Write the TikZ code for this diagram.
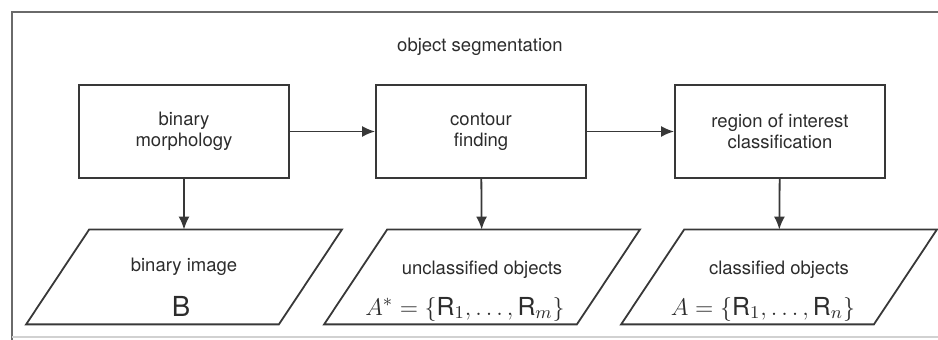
\documentclass[tikz,border=0pt]{standalone}
\usepackage{amsmath}
\usepackage{fontspec}
\setsansfont{TeX Gyre Heros}
\usetikzlibrary{arrows.meta}
\definecolor{linegray}{HTML}{383838}
\definecolor{framegray}{HTML}{6A6A6A}
\definecolor{textgray}{HTML}{2C2C2C}

\begin{document}
\begin{tikzpicture}[x=0.5pt, y=-0.5pt,
    stage/.style={draw=linegray, line width=0.9pt, minimum width=105pt, minimum height=46.5pt,
        inner sep=0pt, align=center, text=textgray, font=\sffamily\fontsize{9.25}{10.5}\selectfont},
    result/.style={minimum width=126pt, minimum height=47pt, inner sep=0pt},
    resulttext/.style={align=center, text=textgray, inner sep=0pt, yshift=-7pt,
        font=\sffamily\fontsize{9.25}{10.5}\selectfont},
    flow/.style={draw=linegray, line width=0.9pt, -{Latex[length=6.5pt,width=5.5pt]}}]
    \useasboundingbox (0,0) rectangle (938,340);
    % The frame round the whole figure.
        \draw[framegray, line width=1.1pt] (950,12) -- (12,12) -- (12,350);
        \draw[black!18, line width=1pt] (12,337) -- (950,337);
    \node[text=textgray, font=\sffamily\fontsize{9.25}{10.5}\selectfont] (title) at (480,47) {object segmentation};
    % Below nodes are the three stages.
        \node[stage] (morph) at (184,131.5) {binary\\morphology};
        \node[stage] (contour) at (481,131.5) {contour\\finding};
        \node[stage] (roi) at (780,131.5) {region of interest\\classification};
    % Below nodes are what each stage gives, the texts sit in their labels.
        \node[result, label={[resulttext]center:{binary image\\[8.5pt]{\fontsize{13.8}{14}\selectfont\hspace*{-3pt}$\vphantom{\{\}}$B}}}] (bimg) at (184,277) {};
        \node[result, label={[resulttext]center:{unclassified objects\\[8.5pt]{\fontsize{12.4}{14}\selectfont\hspace*{-17pt}$A^{*}=\{\mathsf{R}_1,\ldots,\mathsf{R}_m\}$}}}] (uobj) at (482,277) {};
        \node[result, label={[resulttext]center:{classified objects\\[8.5pt]{\fontsize{12.4}{14}\selectfont\hspace*{-16pt}$A=\{\mathsf{R}_1,\ldots,\mathsf{R}_n\}$}}}] (cobj) at (779,277) {};
    % This draws the slanted outlines.
        \foreach \n in {bimg,uobj,cobj}
            \draw[linegray, line width=0.9pt, line join=miter] ([xshift=15.75pt]\n.north west) -- ([xshift=15.75pt]\n.north east)
                -- ([xshift=-15.75pt]\n.south east) -- ([xshift=-15.75pt]\n.south west) -- cycle;
    % This draws the arrows.
        \draw[flow] (morph) -- (contour);
        \draw[flow] (contour) -- (roi);
        \draw[flow] (morph) -- (bimg);
        \draw[flow] (contour) -- (uobj);
        \draw[flow] (roi) -- (cobj);
\end{tikzpicture}
\end{document}
